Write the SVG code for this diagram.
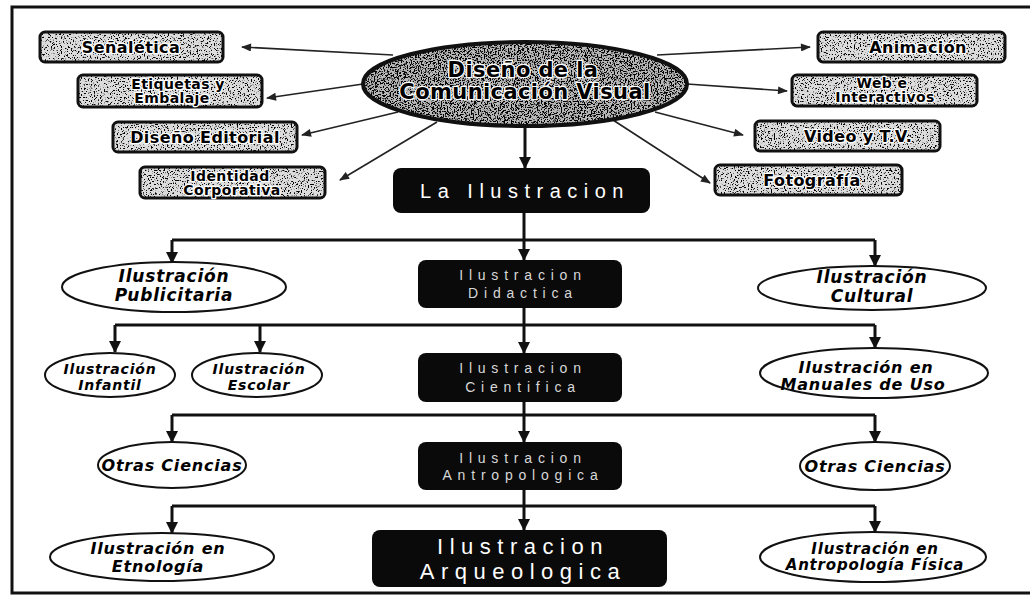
<svg xmlns="http://www.w3.org/2000/svg" width="1030" height="604" viewBox="0 0 1030 604">
<style>
.frame{fill:none;stroke:#111;stroke-width:3}
.gbox{fill:none;stroke:#111;stroke-width:3}
.gell{fill:none;stroke:#111;stroke-width:4}
.gt{font-family:"DejaVu Sans",sans-serif;font-weight:bold;fill:#000;stroke:#fff;stroke-width:2.6;stroke-linejoin:round;paint-order:stroke;text-anchor:middle;letter-spacing:0.4px}
.bbox{fill:#0a0a0a}
.bt{font-family:"Liberation Sans",sans-serif;fill:#d8d8d8;text-anchor:middle}
.wt{font-family:"Liberation Sans",sans-serif;fill:#fff;text-anchor:middle}
.wel{fill:#fff;stroke:#111;stroke-width:2}
.et{font-family:"DejaVu Sans",sans-serif;font-weight:bold;font-style:italic;fill:#000;text-anchor:middle;letter-spacing:0.8px}
.thin{fill:none;stroke:#222;stroke-width:1.6;marker-end:url(#sa)}
.thick{fill:none;stroke:#111;stroke-width:3}
.arr{marker-end:url(#ba)}
</style>
<defs>
<marker id="ba" viewBox="0 0 12 12" refX="11" refY="6" markerWidth="12" markerHeight="13" markerUnits="userSpaceOnUse" orient="auto">
<path d="M0,0 L12,6 L0,12 z" fill="#111"/>
</marker>
<marker id="sa" viewBox="0 0 10 8" refX="9" refY="4" markerWidth="11" markerHeight="8" markerUnits="userSpaceOnUse" orient="auto">
<path d="M0,0 L10,4 L0,8 z" fill="#222"/>
</marker>
<filter id="grain" x="0" y="0" width="1" height="1" color-interpolation-filters="sRGB">
<feTurbulence type="fractalNoise" baseFrequency="0.7" numOctaves="2" seed="4" result="n"/>
<feColorMatrix in="n" type="matrix" values="0 0 0 0 0  0 0 0 0 0  0 0 0 0 0  -10 0 0 0 5.1" result="d"/>
<feComposite in="d" in2="SourceGraphic" operator="in" result="dd"/>
<feMerge><feMergeNode in="SourceGraphic"/><feMergeNode in="dd"/></feMerge>
</filter>
<filter id="grainL" x="0" y="0" width="1" height="1" color-interpolation-filters="sRGB">
<feTurbulence type="fractalNoise" baseFrequency="0.7" numOctaves="2" seed="9" result="n"/>
<feColorMatrix in="n" type="matrix" values="0 0 0 0 0  0 0 0 0 0  0 0 0 0 0  -10 0 0 0 4.3" result="d"/>
<feComposite in="d" in2="SourceGraphic" operator="in" result="dd"/>
<feMerge><feMergeNode in="SourceGraphic"/><feMergeNode in="dd"/></feMerge>
</filter>
</defs>

<rect width="1030" height="604" fill="#fff"/>
<path class="frame" d="M1030,7 H12 V593 H1030"/>

<g id="connectors">
<path class="thin" d="M393,55 L242,47"/>
<path class="thin" d="M363,84 L267,98"/>
<path class="thin" d="M398,112 L302,135"/>
<path class="thin" d="M437,122 L340,180"/>
<path class="thin" d="M657,55 L810,47"/>
<path class="thin" d="M687,84 L787,91"/>
<path class="thin" d="M655,112 L743,135"/>
<path class="thin" d="M613,120 L710,183"/>

<path class="thick arr" d="M525,126 V168"/>
<path class="thick arr" d="M524,213 V260"/>
<path class="thick" d="M172,240 H875"/>
<path class="thick arr" d="M172,240 V263"/>
<path class="thick arr" d="M875,240 V266"/>
<path class="thick arr" d="M524,308 V353"/>
<path class="thick" d="M115,325 H875"/>
<path class="thick arr" d="M115,325 V352"/>
<path class="thick arr" d="M260,325 V352"/>
<path class="thick arr" d="M875,325 V348"/>
<path class="thick arr" d="M524,402 V442"/>
<path class="thick" d="M172,415 H875"/>
<path class="thick arr" d="M172,415 V442"/>
<path class="thick arr" d="M875,415 V442"/>
<path class="thick arr" d="M524,490 V530"/>
<path class="thick" d="M172,506 H875"/>
<path class="thick arr" d="M172,506 V533"/>
<path class="thick arr" d="M875,506 V532"/>
</g>

<g id="n-dcv">
<ellipse cx="525" cy="84" rx="162" ry="42" fill="#b8b8b8" filter="url(#grain)"/>
<ellipse class="gell" cx="525" cy="84" rx="162" ry="42"/>
<text class="gt" x="523" y="77" font-size="21">Diseño de la</text>
<text class="gt" x="525" y="99" font-size="21">Comunicación Visual</text>
</g>

<g id="n-senaletica">
<rect x="40" y="32" width="183" height="30" rx="5" fill="#dcdcdc" filter="url(#grainL)"/>
<rect class="gbox" x="40" y="32" width="183" height="30" rx="5"/>
<text class="gt" x="131" y="53" font-size="16">Señalética</text>
</g>
<g id="n-etiquetas">
<rect x="78" y="75" width="184" height="32" rx="5" fill="#dcdcdc" filter="url(#grainL)"/>
<rect class="gbox" x="78" y="75" width="184" height="32" rx="5"/>
<text class="gt" x="178" y="89" font-size="14">Etiquetas y</text>
<text class="gt" x="172" y="103" font-size="14">Embalaje</text>
</g>
<g id="n-editorial">
<rect x="113" y="122" width="184" height="30" rx="5" fill="#dcdcdc" filter="url(#grainL)"/>
<rect class="gbox" x="113" y="122" width="184" height="30" rx="5"/>
<text class="gt" x="205" y="143" font-size="16">Diseño Editorial</text>
</g>
<g id="n-identidad">
<rect x="140" y="167" width="185" height="31" rx="5" fill="#dcdcdc" filter="url(#grainL)"/>
<rect class="gbox" x="140" y="167" width="185" height="31" rx="5"/>
<text class="gt" x="230" y="181" font-size="14">Identidad</text>
<text class="gt" x="232" y="195" font-size="14">Corporativa</text>
</g>
<g id="n-animacion">
<rect x="818" y="32" width="187" height="30" rx="5" fill="#dcdcdc" filter="url(#grainL)"/>
<rect class="gbox" x="818" y="32" width="187" height="30" rx="5"/>
<text class="gt" x="918" y="53" font-size="16">Animación</text>
</g>
<g id="n-web">
<rect x="792" y="75" width="185" height="31" rx="5" fill="#dcdcdc" filter="url(#grainL)"/>
<rect class="gbox" x="792" y="75" width="185" height="31" rx="5"/>
<text class="gt" x="882" y="88" font-size="14">Web e</text>
<text class="gt" x="885" y="102" font-size="14">Interactivos</text>
</g>
<g id="n-video">
<rect x="755" y="121" width="185" height="30" rx="5" fill="#dcdcdc" filter="url(#grainL)"/>
<rect class="gbox" x="755" y="121" width="185" height="30" rx="5"/>
<text class="gt" x="858" y="142" font-size="16">Video y T.V.</text>
</g>
<g id="n-foto">
<rect x="715" y="165" width="187" height="30" rx="5" fill="#dcdcdc" filter="url(#grainL)"/>
<rect class="gbox" x="715" y="165" width="187" height="30" rx="5"/>
<text class="gt" x="812" y="186" font-size="16">Fotografía</text>
</g>

<g id="n-la">
<rect class="bbox" x="393" y="168" width="257" height="45" rx="8"/>
<text class="wt" x="525" y="198" font-size="20" letter-spacing="6.5">La Ilustracion</text>
</g>
<g id="n-didactica">
<rect class="bbox" x="418" y="260" width="204" height="48" rx="8"/>
<text class="bt" x="523" y="280" font-size="14" letter-spacing="5.8">Ilustracion</text>
<text class="bt" x="523" y="298" font-size="14" letter-spacing="5.8">Didactica</text>
</g>
<g id="n-cientifica">
<rect class="bbox" x="418" y="353" width="204" height="49" rx="8"/>
<text class="bt" x="523" y="373" font-size="14" letter-spacing="5.8">Ilustracion</text>
<text class="bt" x="523" y="392" font-size="14" letter-spacing="5.8">Cientifica</text>
</g>
<g id="n-antropologica">
<rect class="bbox" x="418" y="442" width="204" height="48" rx="8"/>
<text class="bt" x="523" y="463" font-size="14" letter-spacing="5.8">Ilustracion</text>
<text class="bt" x="523" y="480" font-size="14" letter-spacing="5.8">Antropologica</text>
</g>
<g id="n-arqueologica">
<rect class="bbox" x="372" y="530" width="295" height="57" rx="8"/>
<text class="wt" x="523" y="554" font-size="22" letter-spacing="6.5">Ilustracion</text>
<text class="wt" x="523" y="579" font-size="22" letter-spacing="6.5">Arqueologica</text>
</g>

<g id="n-publicitaria">
<ellipse class="wel" cx="174" cy="287" rx="112" ry="25"/>
<text class="et" x="174" y="282" font-size="17">Ilustración</text>
<text class="et" x="174" y="301" font-size="17">Publicitaria</text>
</g>
<g id="n-cultural">
<ellipse class="wel" cx="872" cy="288" rx="114" ry="22"/>
<text class="et" x="872" y="283" font-size="17">Ilustración</text>
<text class="et" x="872" y="302" font-size="17">Cultural</text>
</g>
<g id="n-infantil">
<ellipse class="wel" cx="110" cy="375" rx="65" ry="22"/>
<text class="et" x="110" y="374" font-size="14">Ilustración</text>
<text class="et" x="110" y="390" font-size="14">Infantil</text>
</g>
<g id="n-escolar">
<ellipse class="wel" cx="257" cy="375" rx="65" ry="22"/>
<text class="et" x="259" y="374" font-size="14">Ilustración</text>
<text class="et" x="259" y="390" font-size="14">Escolar</text>
</g>
<g id="n-manuales">
<ellipse class="wel" cx="874" cy="373" rx="114" ry="25"/>
<text class="et" x="866" y="373" font-size="16">Ilustración en</text>
<text class="et" x="863" y="390" font-size="16">Manuales de Uso</text>
</g>
<g id="n-otras-l">
<ellipse class="wel" cx="172" cy="465" rx="74" ry="23"/>
<text class="et" x="172" y="471" font-size="16">Otras Ciencias</text>
</g>
<g id="n-otras-r">
<ellipse class="wel" cx="875" cy="466" rx="75" ry="24"/>
<text class="et" x="875" y="472" font-size="16">Otras Ciencias</text>
</g>
<g id="n-etnologia">
<ellipse class="wel" cx="162" cy="557" rx="112" ry="24"/>
<text class="et" x="158" y="554" font-size="16">Ilustración en</text>
<text class="et" x="158" y="572" font-size="16">Etnología</text>
</g>
<g id="n-fisica">
<ellipse class="wel" cx="873" cy="557" rx="113" ry="25"/>
<text class="et" x="875" y="554" font-size="15">Ilustración en</text>
<text class="et" x="875" y="570" font-size="15">Antropología Física</text>
</g>
</svg>
